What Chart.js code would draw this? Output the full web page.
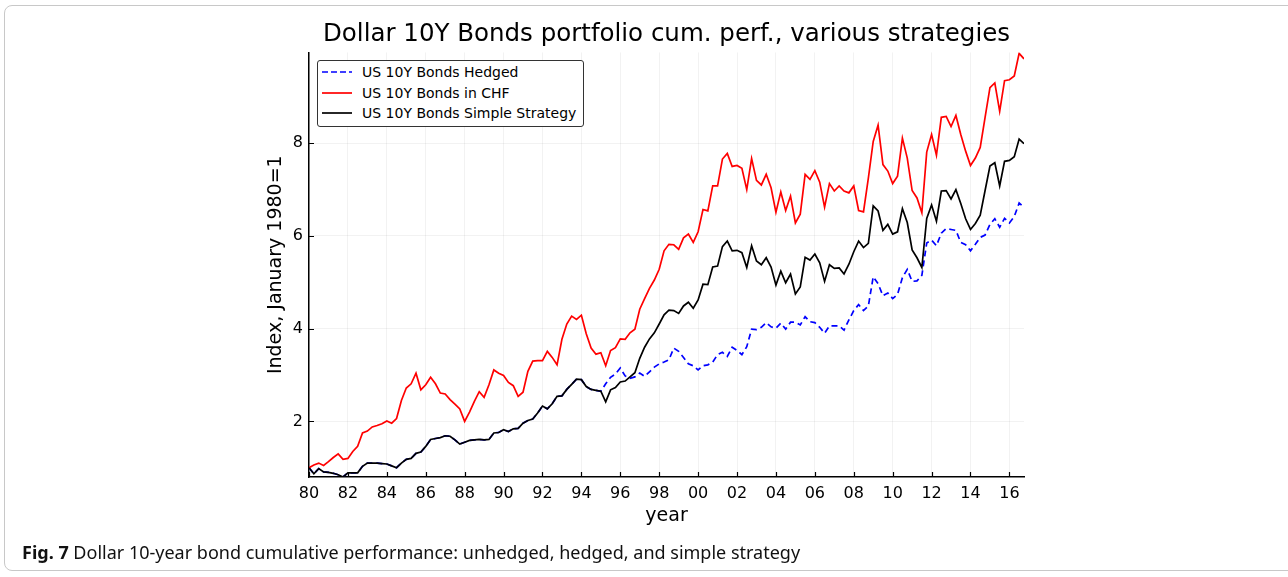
<!DOCTYPE html>
<html>
<head>
<meta charset="utf-8">
<title>Dollar 10Y Bonds portfolio</title>
<script src="https://cdn.jsdelivr.net/npm/chart.js@4.4.1/dist/chart.umd.min.js"></script>
<style>
  html, body { margin: 0; padding: 0; background: #fff; overflow: hidden; }
  #frame {
    position: absolute; left: 4px; top: 5px; width: 1310px; height: 566px;
    border: 1px solid #c8c8c8; border-radius: 8px; box-sizing: border-box;
  }
  #wrap { position: absolute; left: 0; top: 0; width: 1288px; height: 577px; }
  #legend {
    position: absolute; left: 317px; top: 60px; width: 267px; height: 67px;
    box-sizing: border-box; border: 1.5px solid #333; border-radius: 3px;
    background: #fff; font-family: 'DejaVu Sans', sans-serif; font-size: 14px; color: #000;
    padding-top: 1px;
  }
  #legend .row { height: 20.5px; display: flex; align-items: center; }
  #legend svg { margin-left: 4px; margin-right: 10px; }
  #caption {
    position: absolute; left: 22px; top: 541px; line-height: 22px;
    font-family: 'Noto Sans', sans-serif; font-size: 18px; color: #111; white-space: nowrap;
  }
</style>
</head>
<body>
<div id="frame"></div>
<div id="wrap"><canvas id="bondChart"></canvas></div>
<div id="legend"></div>
<div id="caption"><b>Fig. 7</b> Dollar 10-year bond cumulative performance: unhedged, hedged, and simple strategy</div>
<script>
// quarterly observations, January 1980 to 2016 Q3
var startYear = 1980;
var periodsPerYear = 4;

var chfValues = [
    1.00, 1.06, 1.10, 1.05, 1.13, 1.22, 1.30, 1.18, 1.20, 1.35,
    1.46, 1.75, 1.79, 1.88, 1.91, 1.95, 2.01, 1.96, 2.06, 2.45,
    2.72, 2.81, 3.04, 2.68, 2.79, 2.95, 2.81, 2.61, 2.59, 2.47,
    2.37, 2.27, 2.00, 2.20, 2.43, 2.64, 2.52, 2.79, 3.11, 3.04,
    2.99, 2.84, 2.77, 2.54, 2.63, 3.08, 3.30, 3.31, 3.31, 3.51,
    3.38, 3.22, 3.77, 4.10, 4.27, 4.20, 4.29, 3.89, 3.58, 3.45,
    3.48, 3.20, 3.53, 3.59, 3.78, 3.77, 3.91, 3.99, 4.42, 4.65,
    4.87, 5.05, 5.28, 5.68, 5.82, 5.81, 5.71, 5.96, 6.04, 5.86,
    6.09, 6.57, 6.54, 7.08, 7.08, 7.66, 7.78, 7.50, 7.52, 7.46,
    7.00, 7.67, 7.20, 7.10, 7.33, 7.04, 6.51, 6.95, 6.55, 6.86,
    6.28, 6.47, 7.33, 7.22, 7.41, 7.16, 6.62, 7.13, 6.97, 7.08,
    6.97, 6.93, 7.08, 6.55, 6.52, 7.25, 8.04, 8.39, 7.54, 7.40,
    7.13, 7.29, 8.11, 7.68, 6.98, 6.82, 6.50, 7.81, 8.19, 7.74,
    8.56, 8.58, 8.36, 8.60, 8.19, 7.83, 7.52, 7.68, 7.91, 8.56,
    9.20, 9.30, 8.69, 9.35, 9.37, 9.45, 9.94, 9.82
];

var simpleValues = [
    1.00, 0.87, 0.98, 0.91, 0.90, 0.88, 0.85, 0.80, 0.89, 0.89,
    0.89, 1.03, 1.10, 1.10, 1.10, 1.09, 1.08, 1.04, 1.00, 1.10,
    1.18, 1.20, 1.31, 1.34, 1.46, 1.61, 1.63, 1.65, 1.69, 1.68,
    1.60, 1.51, 1.55, 1.59, 1.60, 1.61, 1.60, 1.61, 1.75, 1.76,
    1.82, 1.78, 1.84, 1.85, 1.96, 2.02, 2.05, 2.18, 2.33, 2.27,
    2.38, 2.54, 2.55, 2.69, 2.80, 2.91, 2.90, 2.75, 2.69, 2.67,
    2.65, 2.42, 2.68, 2.73, 2.85, 2.87, 2.96, 3.05, 3.36, 3.60,
    3.78, 3.91, 4.10, 4.30, 4.40, 4.39, 4.33, 4.49, 4.57, 4.44,
    4.62, 4.96, 4.95, 5.33, 5.35, 5.77, 5.89, 5.68, 5.69, 5.64,
    5.32, 5.79, 5.46, 5.38, 5.53, 5.33, 4.94, 5.24, 4.99, 5.18,
    4.75, 4.90, 5.54, 5.48, 5.61, 5.42, 5.02, 5.38, 5.30, 5.31,
    5.18, 5.39, 5.66, 5.89, 5.75, 5.84, 6.65, 6.54, 6.12, 6.25,
    6.04, 6.09, 6.59, 6.29, 5.70, 5.53, 5.32, 6.38, 6.67, 6.32,
    6.97, 6.98, 6.80, 7.00, 6.70, 6.37, 6.14, 6.27, 6.45, 6.98,
    7.51, 7.58, 7.08, 7.61, 7.63, 7.71, 8.09, 7.99
];

// same path as the simple strategy until 1995, then hedged on its own
var hedgedValues = [
    1.00, 0.87, 0.98, 0.91, 0.90, 0.88, 0.85, 0.80, 0.89, 0.89,
    0.89, 1.03, 1.10, 1.10, 1.10, 1.09, 1.08, 1.04, 1.00, 1.10,
    1.18, 1.20, 1.31, 1.34, 1.46, 1.61, 1.63, 1.65, 1.69, 1.68,
    1.60, 1.51, 1.55, 1.59, 1.60, 1.61, 1.60, 1.61, 1.75, 1.76,
    1.82, 1.78, 1.84, 1.85, 1.96, 2.02, 2.05, 2.18, 2.33, 2.27,
    2.38, 2.54, 2.55, 2.69, 2.80, 2.91, 2.90, 2.75, 2.69, 2.67,
    2.65, 2.81, 2.95, 3.02, 3.15, 2.98, 2.93, 2.96, 3.04, 2.97,
    3.07, 3.17, 3.24, 3.28, 3.33, 3.58, 3.51, 3.38, 3.24, 3.20,
    3.11, 3.20, 3.22, 3.28, 3.44, 3.49, 3.40, 3.60, 3.53, 3.44,
    3.61, 3.99, 3.98, 4.03, 4.13, 4.04, 4.01, 4.12, 3.99, 4.14,
    4.14, 4.08, 4.26, 4.15, 4.13, 4.03, 3.90, 4.06, 4.06, 4.06,
    3.97, 4.19, 4.39, 4.52, 4.39, 4.49, 5.12, 4.97, 4.71, 4.77,
    4.65, 4.74, 5.10, 5.28, 5.02, 5.03, 5.15, 5.85, 5.91, 5.79,
    6.06, 6.16, 6.14, 6.12, 5.86, 5.81, 5.68, 5.82, 5.97, 6.02,
    6.25, 6.37, 6.19, 6.38, 6.28, 6.42, 6.71, 6.62
];

var xTickYears = [1980, 1982, 1984, 1986, 1988, 1990, 1992, 1994, 1996, 1998,
                  2000, 2002, 2004, 2006, 2008, 2010, 2012, 2014, 2016];
var xTickLabels = ['80', '82', '84', '86', '88', '90', '92', '94', '96', '98',
                   '00', '02', '04', '06', '08', '10', '12', '14', '16'];
var yTicks = [2, 4, 6, 8];

function toPoints(values) {
    return values.map(function (v, i) {
        return { x: startYear + i / periodsPerYear, y: v };
    });
}

// small tick marks drawn inside the plot, like the original
var innerTicks = {
    id: 'innerTicks',
    afterDraw: function (chart) {
        var ctx = chart.ctx, area = chart.chartArea;
        var xs = chart.scales.x, ys = chart.scales.y;
        ctx.save();
        ctx.strokeStyle = '#000';
        ctx.lineWidth = 1.2;
        ctx.beginPath();
        xTickYears.forEach(function (t) {
            var px = Math.round(xs.getPixelForValue(t)) + 0.5;
            ctx.moveTo(px, area.bottom);
            ctx.lineTo(px, area.bottom - 5);
        });
        yTicks.forEach(function (t) {
            var py = Math.round(ys.getPixelForValue(t)) + 0.5;
            ctx.moveTo(area.left, py);
            ctx.lineTo(area.left + 5, py);
        });
        ctx.stroke();
        ctx.restore();
    }
};

var ctx = document.getElementById('bondChart').getContext('2d');
var bondChart = new Chart(ctx, {
    type: 'line',
    data: {
        datasets: [{
            label: 'US 10Y Bonds Hedged',
            data: toPoints(hedgedValues),
            borderColor: '#0000ff',
            borderWidth: 1.7,
            borderDash: [6, 4],
            pointRadius: 0,
            order: 3
        }, {
            label: 'US 10Y Bonds in CHF',
            data: toPoints(chfValues),
            borderColor: '#ff0000',
            borderWidth: 1.7,
            pointRadius: 0,
            order: 2
        }, {
            label: 'US 10Y Bonds Simple Strategy',
            data: toPoints(simpleValues),
            borderColor: '#000000',
            borderWidth: 1.7,
            pointRadius: 0,
            order: 1
        }]
    },
    options: {
        responsive: true,
        maintainAspectRatio: false,
        animation: false,
        layout: { padding: { left: 258, right: 264, top: 0, bottom: 40 } },
        plugins: {
            legend: { display: false },
            tooltip: { enabled: false },
            title: {
                display: true,
                fullSize: false,
                text: 'Dollar 10Y Bonds portfolio cum. perf., various strategies',
                color: '#000',
                font: { family: 'DejaVu Sans', size: 24.5, weight: 'normal' },
                padding: { top: 19.5, bottom: 3.5 }
            }
        },
        scales: {
            x: {
                type: 'linear',
                min: 1980,
                max: 2016.75,
                afterBuildTicks: function (scale) {
                    scale.ticks = xTickYears.map(function (v) { return { value: v }; });
                },
                afterFit: function (scale) { scale.height = 60; },
                ticks: {
                    color: '#000',
                    padding: 7,
                    maxRotation: 0,
                    autoSkip: false,
                    font: { family: 'DejaVu Sans', size: 16 },
                    callback: function (value) {
                        return xTickLabels[xTickYears.indexOf(value)];
                    }
                },
                grid: { color: 'rgba(0,0,0,0.05)', drawTicks: false },
                border: { color: '#000', width: 1.5 },
                title: {
                    display: true,
                    text: 'year',
                    color: '#000',
                    font: { family: 'DejaVu Sans', size: 19 },
                    padding: { top: 0, bottom: 10 }
                }
            },
            y: {
                min: 0.8,
                max: 9.96,
                afterBuildTicks: function (scale) {
                    scale.ticks = yTicks.map(function (v) { return { value: v }; });
                },
                afterFit: function (scale) { scale.width = 51; },
                ticks: {
                    color: '#000',
                    padding: 6,
                    font: { family: 'DejaVu Sans', size: 16 }
                },
                grid: { color: 'rgba(0,0,0,0.05)', drawTicks: false },
                border: { color: '#000', width: 1.5 },
                title: {
                    display: true,
                    text: 'Index, January 1980=1',
                    color: '#000',
                    font: { family: 'DejaVu Sans', size: 19 },
                    padding: { top: 7, bottom: 0 }
                }
            }
        }
    },
    plugins: [innerTicks]
});

// legend box inside the plot, built from the datasets
var legendEl = document.getElementById('legend');
bondChart.data.datasets.forEach(function (ds) {
    var row = document.createElement('div');
    row.className = 'row';
    var dash = ds.borderDash ? ' stroke-dasharray="6,3"' : '';
    row.innerHTML = '<svg width="30" height="4"><line x1="0" y1="2" x2="30" y2="2" stroke="' +
        ds.borderColor + '" stroke-width="1.7"' + dash + '/></svg><span>' + ds.label + '</span>';
    legendEl.appendChild(row);
});
</script>
</body>
</html>
